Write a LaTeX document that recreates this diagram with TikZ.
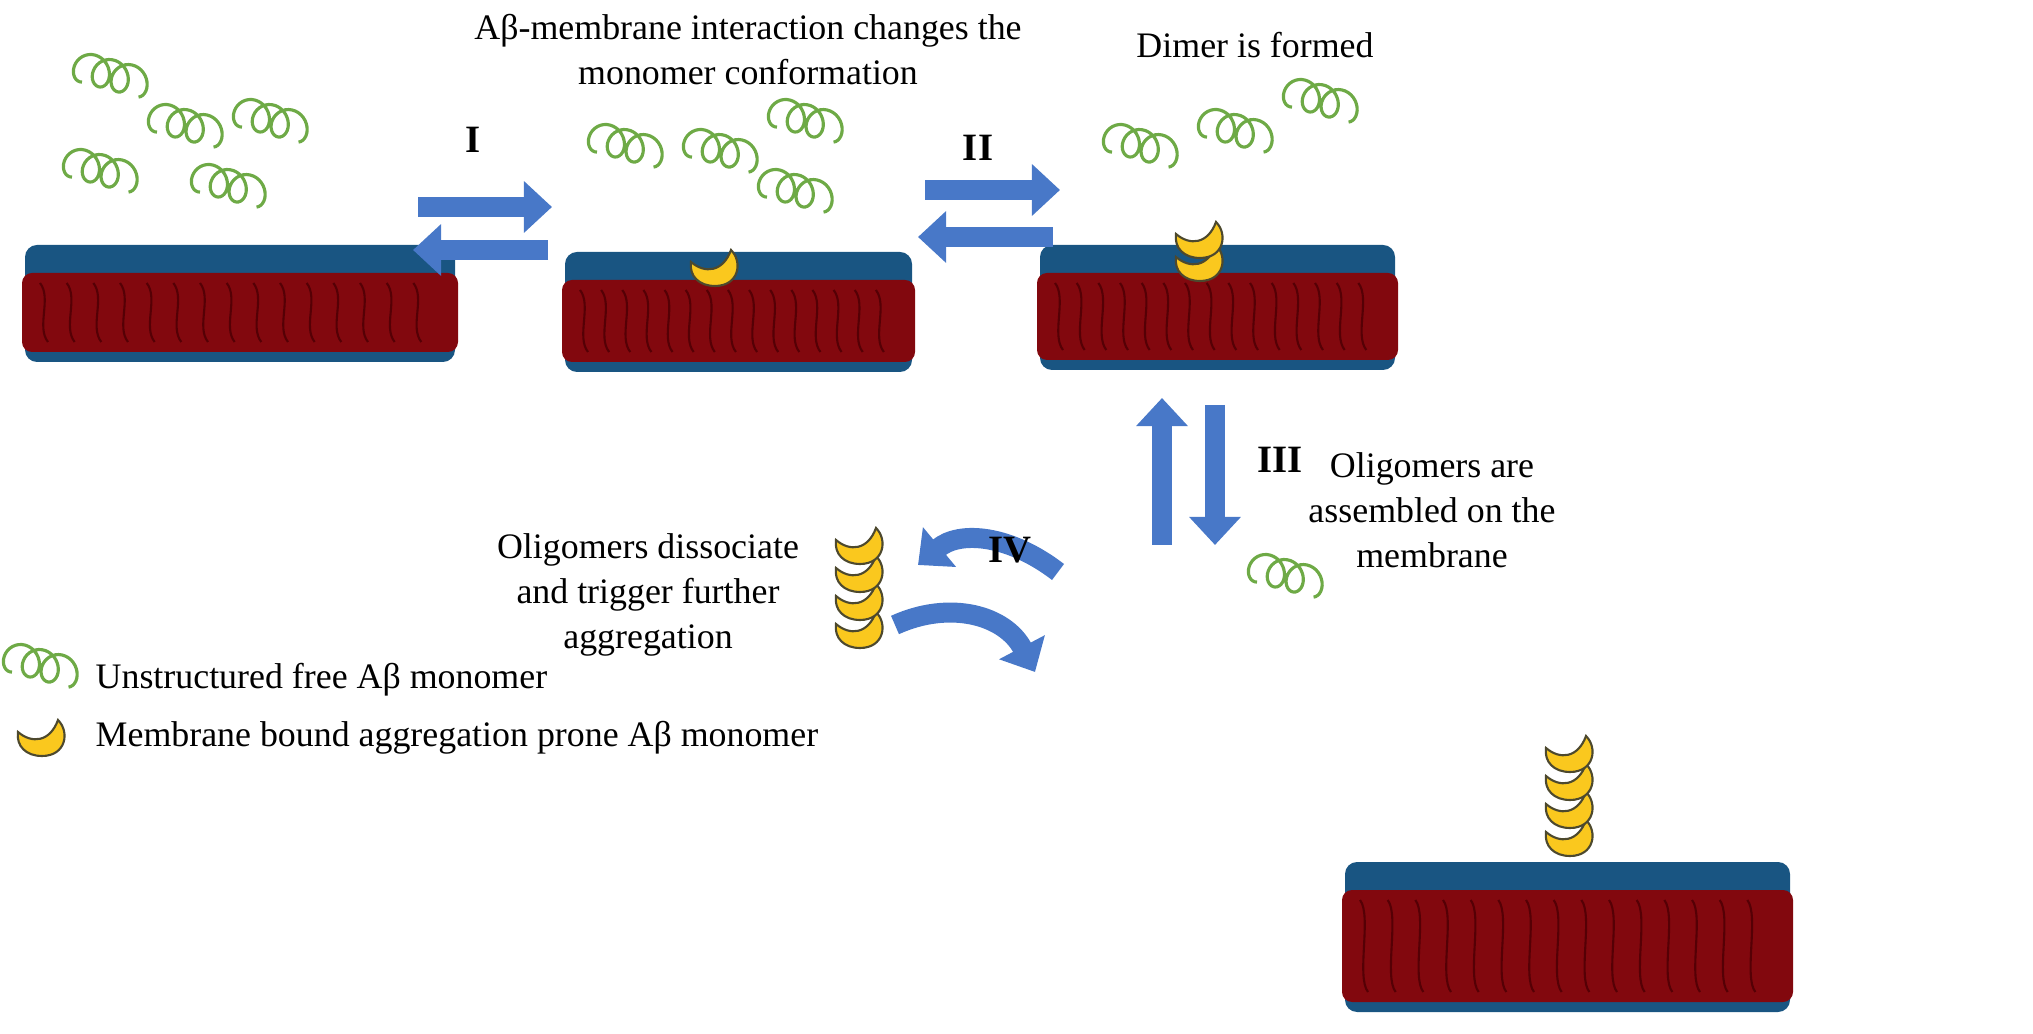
\documentclass[tikz,border=0pt]{standalone}
\usepackage{fontspec}
\setmainfont{Liberation Serif}
\usetikzlibrary{arrows.meta}
\definecolor{memblue}{RGB}{25,85,130}
\definecolor{memred}{RGB}{130,8,14}
\definecolor{memdark}{RGB}{85,0,5}
\definecolor{arrblue}{RGB}{72,120,200}
\definecolor{coilgreen}{RGB}{110,170,70}
\definecolor{banana}{RGB}{250,200,30}
\tikzset{
  x=0.01cm,y=-0.01cm,
  lbl/.style={font=\fontsize{10.2}{12.8}\selectfont,align=center,inner sep=0pt},
  rom/.style={font=\fontsize{11}{13}\selectfont\bfseries,inner sep=0pt},
  bigarrow/.style={draw=arrblue,line width=0.2cm,-{Triangle[width=0.5cm,length=0.28cm]}},
  pics/coil/.style={code={
    \draw[coilgreen,line width=0.9pt,smooth] plot[domain=0:18.85,samples=90]
      ({3*\x-13*sin(\x r)-28},{15*cos(\x r)+0.8*\x-8});
  }},
  pics/banana/.style={code={
    \filldraw[fill=banana,draw=black!60!olive,line width=0.6pt]
      (-24,-8) .. controls (-10,4) and (8,2) .. (16,-20)
      .. controls (28,-8) and (24,16) .. (0,16)
      .. controls (-16,16) and (-26,6) .. cycle;
  }},
}
\newcommand{\membr}[4]{% x1 x2 ytop ybot
  \fill[memblue,rounded corners=0.12cm] (#1,#3) rectangle (#2,#4);
  \fill[memred,rounded corners=0.1cm] (#1-3,#3+28) rectangle (#2+3,#4-10);
  \foreach \k in {0,...,14}{
    \draw[memdark,line width=0.6pt] ({#1+15+\k*(#2-#1-30)/15},#3+38)
      .. controls +(12,15) and +(-12,-15) .. ({#1+15+\k*(#2-#1-30)/15+8},#4-20);}
}
\begin{document}
\begin{tikzpicture}
\useasboundingbox (0,0) rectangle (2033,1034);
% membranes
\membr{25}{455}{245}{362}
\membr{565}{912}{252}{372}
\membr{1040}{1395}{245}{370}
\membr{1345}{1790}{862}{1012}
% coils
\foreach \p in {(110,75),(100,170),(185,125),(270,120),(228,185),
  (625,145),(720,150),(805,120),(795,190),
  (1140,145),(1235,130),(1320,100),(1285,575)} \pic at \p {coil};
% bananas
\pic at (715,270) {banana};
\pic at (1200,265) {banana};
\pic at (1200,242) {banana};
\foreach \yy in {840,812,784,756} \pic at (1570,\yy) {banana};
\foreach \yy in {632,604,576,548} \pic at (860,\yy) {banana};
% arrows
\coordinate (a1s) at (418,207); \coordinate (a1e) at (552,207);
\coordinate (a2s) at (548,250); \coordinate (a2e) at (413,250);
\coordinate (b1s) at (925,190); \coordinate (b1e) at (1060,190);
\coordinate (b2s) at (1053,237); \coordinate (b2e) at (918,237);
\coordinate (c1s) at (1162,545); \coordinate (c1e) at (1162,398);
\coordinate (c2s) at (1215,405); \coordinate (c2e) at (1215,545);
\coordinate (d1s) at (1058,572); \coordinate (d1e) at (918,565);
\coordinate (d2s) at (895,625); \coordinate (d2e) at (1035,672);
\draw[bigarrow] (a1s) -- (a1e);
\draw[bigarrow] (a2s) -- (a2e);
\draw[bigarrow] (b1s) -- (b1e);
\draw[bigarrow] (b2s) -- (b2e);
\draw[bigarrow] (c1s) -- (c1e);
\draw[bigarrow] (c2s) -- (c2e);
\draw[bigarrow] (d1s) .. controls (1010,535) and (960,530) .. (d1e);
\draw[bigarrow] (d2s) .. controls (950,600) and (1005,615) .. (d2e);
% labels
\node[rom] (rI) at (473,140) {I};
\node[rom] (rII) at (978,148) {II};
\node[rom] (rIII) at (1280,460) {III};
\node[rom] (rIV) at (1010,550) {IV};
\node[lbl] (t1) at (748,50) {Aβ-membrane interaction changes the\\monomer conformation};
\node[lbl] (t2) at (1255,45) {Dimer is formed};
\node[lbl] (t3) at (1432,510) {Oligomers are\\assembled on the\\membrane};
\node[lbl] (t4) at (648,595) {Oligomers dissociate\\and trigger further\\aggregation};
% legend
\pic at (40,665) {coil};
\pic at (42,740) {banana};
\node[lbl,anchor=west] (l1) at (95,680) {Unstructured free Aβ monomer};
\node[lbl,anchor=west] (l2) at (95,738) {Membrane bound aggregation prone Aβ monomer};
\end{tikzpicture}
\end{document}
